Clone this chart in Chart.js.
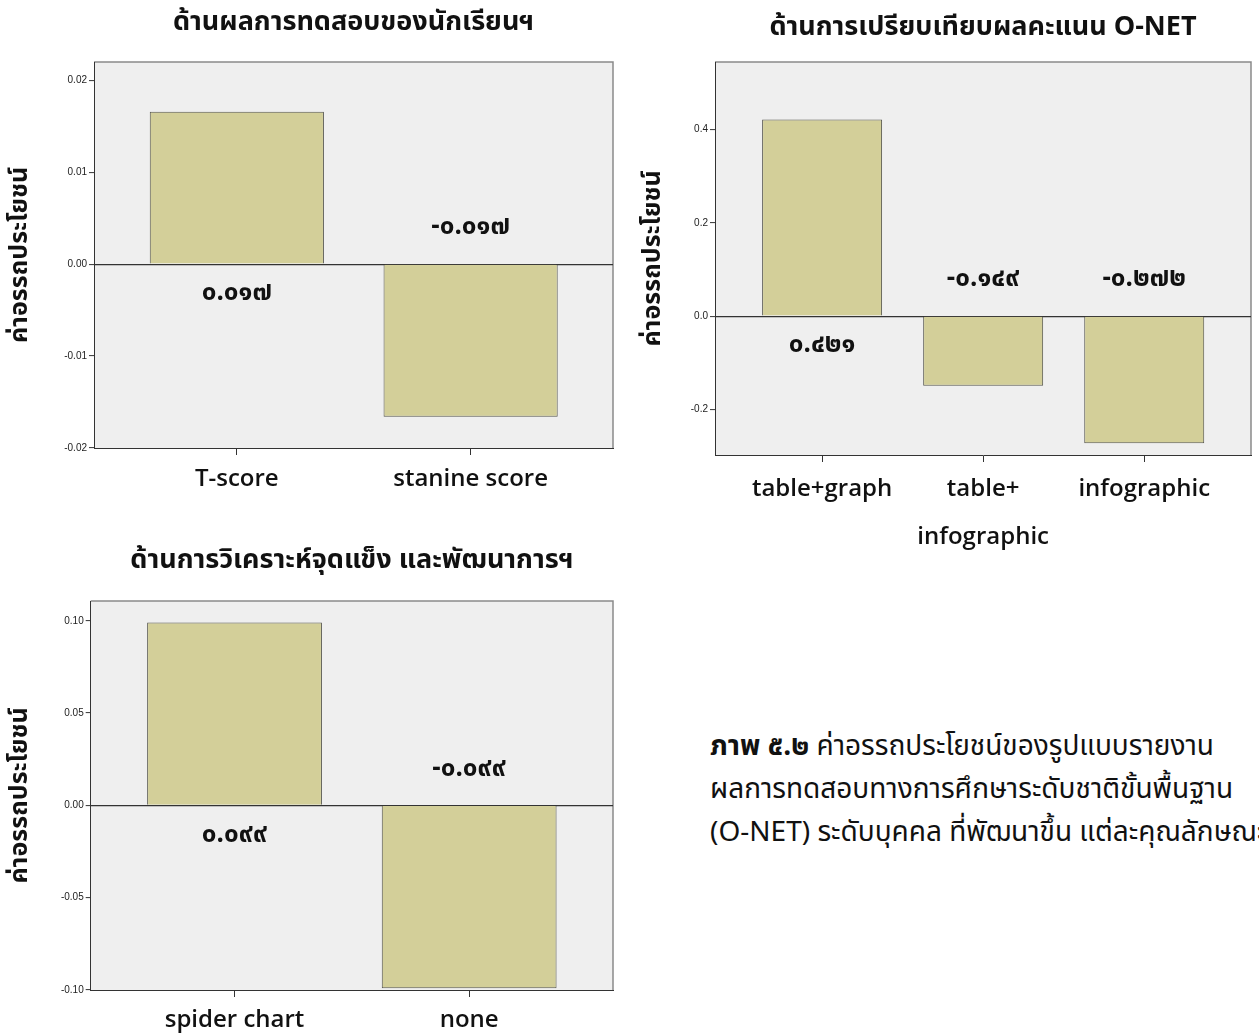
<!DOCTYPE html>
<html lang="th">
<head>
<meta charset="utf-8">
<title>ค่าอรรถประโยชน์</title>
<script src="https://cdn.jsdelivr.net/npm/chart.js@4/dist/chart.umd.min.js"></script>
<style>
  html, body { margin: 0; padding: 0; background: #fff; }
  body { position: relative; width: 1259px; height: 1034px; overflow: hidden;
         font-family: "Noto Sans Thai", Tahoma, "Open Sans", "Noto Sans", sans-serif; }
  .panel { position: absolute; }
  #caption { position: absolute; left: 710px; top: 725px; font-size: 28px; line-height: 43px;
             white-space: nowrap; color: #111; }
</style>
</head>
<body>
<div class="panel" style="left:0;top:0;width:625px;height:510px"><canvas id="testChart"></canvas></div>
<div class="panel" style="left:630px;top:0;width:629px;height:560px"><canvas id="compareChart"></canvas></div>
<div class="panel" style="left:0;top:530px;width:625px;height:504px"><canvas id="analysisChart"></canvas></div>
<div id="caption"><b>ภาพ ๕.๒</b> ค่าอรรถประโยชน์ของรูปแบบรายงาน<br>ผลการทดสอบทางการศึกษาระดับชาติขั้นพื้นฐาน<br>(O-NET) ระดับบุคคล ที่พัฒนาขึ้น แต่ละคุณลักษณะ</div>

<script>
// Data
const axisTitle = 'ค่าอรรถประโยชน์';

const testTitle = 'ด้านผลการทดสอบของนักเรียนฯ';
const testLabels = ['T-score', 'stanine score'];
const testValues = [0.0166, -0.0166];
const testTicks = [-0.02, -0.01, 0, 0.01, 0.02];

const compareTitle = 'ด้านการเปรียบเทียบผลคะแนน O-NET';
const compareLabels = ['table+graph', ['table+', 'infographic'], 'infographic'];
const compareValues = [0.421, -0.149, -0.272];
const compareTicks = [-0.2, 0, 0.2, 0.4];

const analysisTitle = 'ด้านการวิเคราะห์จุดแข็ง และพัฒนาการฯ';
const analysisLabels = ['spider chart', 'none'];
const analysisValues = [0.099, -0.099];
const analysisTicks = [-0.10, -0.05, 0, 0.05, 0.10];

const THAI_FONT = '"Noto Sans Thai", Tahoma, "Open Sans", "Noto Sans", sans-serif';
const LATIN_FONT = '"Open Sans", "Noto Sans Thai", sans-serif';
const BAR_FILL = '#d3cf99';
const PLOT_BG = '#efefef';
const AXIS_COLOR = '#333333';

function toThaiDigits(str) {
    const digits = '๐๑๒๓๔๕๖๗๘๙';
    return str.replace(/[0-9]/g, d => digits[+d]);
}

// grey plot panel with the lighter top/right frame
const plotPanel = {
    id: 'plotPanel',
    beforeDraw(chart) {
        const {ctx, chartArea: a} = chart;
        ctx.save();
        ctx.fillStyle = PLOT_BG;
        ctx.fillRect(a.left, a.top, a.right - a.left, a.bottom - a.top);
        ctx.strokeStyle = '#8a8a8a';
        ctx.lineWidth = 1.5;
        ctx.beginPath();
        ctx.moveTo(a.left, a.top);
        ctx.lineTo(a.right, a.top);
        ctx.lineTo(a.right, a.bottom);
        ctx.stroke();
        ctx.restore();
    }
};

// value labels sit on the other side of the zero line
const valueLabels = {
    id: 'valueLabels',
    afterDatasetsDraw(chart) {
        const {ctx} = chart;
        const zero = chart.scales.y.getPixelForValue(0);
        const points = chart.data.datasets[0].data;
        ctx.save();
        ctx.font = 'bold 26px ' + THAI_FONT;
        ctx.fillStyle = '#111';
        ctx.textAlign = 'center';
        ctx.textBaseline = 'middle';
        chart.getDatasetMeta(0).data.forEach((bar, i) => {
            const v = points[i].y;
            const y = v >= 0 ? zero + 31 : zero - 35;
            ctx.fillText(toThaiDigits(v.toFixed(3)), bar.x, y);
        });
        ctx.restore();
    }
};

function makeChart(id, opts) {
    const data = opts.values.map((v, i) => ({x: i, y: v}));
    return new Chart(document.getElementById(id), {
        type: 'bar',
        data: {
            datasets: [{
                data: data,
                backgroundColor: BAR_FILL,
                borderColor: '#55554c',
                borderWidth: 1,
                barPercentage: 0.745,
                categoryPercentage: 1
            }]
        },
        options: {
            responsive: true,
            maintainAspectRatio: false,
            animation: false,
            layout: {padding: {left: 0, top: 0, right: opts.padRight, bottom: 0}},
            plugins: {
                legend: {display: false},
                tooltip: {enabled: false},
                title: {
                    display: true,
                    text: opts.title,
                    fullSize: false,
                    color: '#111',
                    font: {family: THAI_FONT, size: 27, weight: 'bold', lineHeight: 1.2},
                    padding: opts.titlePad
                }
            },
            scales: {
                x: {
                    type: 'linear',
                    offset: false,
                    min: opts.xMin,
                    max: opts.xMax,
                    afterBuildTicks: s => { s.ticks = opts.labels.map((_, i) => ({value: i})); },
                    afterFit: s => { s.height = opts.xHeight; },
                    border: {color: AXIS_COLOR, width: 1},
                    grid: {offset: false, drawOnChartArea: false, tickLength: 7, tickColor: AXIS_COLOR},
                    ticks: {
                        autoSkip: false,
                        maxRotation: 0,
                        padding: opts.xPad,
                        color: '#111',
                        font: {family: LATIN_FONT, size: 24, weight: '600', lineHeight: opts.xLineHeight},
                        callback: (v, i) => opts.labels[i]
                    }
                },
                y: {
                    min: opts.yMin,
                    max: opts.yMax,
                    afterBuildTicks: s => { s.ticks = opts.ticks.map(v => ({value: v})); },
                    afterFit: s => { s.width = opts.yWidth; },
                    border: {color: AXIS_COLOR, width: 1},
                    grid: {
                        color: ctx => (ctx.tick && ctx.tick.value === 0) ? AXIS_COLOR : 'rgba(0,0,0,0)',
                        lineWidth: 1.2,
                        tickLength: 5,
                        tickColor: AXIS_COLOR,
                        tickWidth: 1
                    },
                    ticks: {
                        padding: 2,
                        color: '#222',
                        font: {family: '"Liberation Sans", Arial, sans-serif', size: 10},
                        callback: v => v.toFixed(opts.decimals)
                    },
                    title: {
                        display: true,
                        text: axisTitle,
                        color: '#111',
                        font: {family: THAI_FONT, size: 25, weight: 'bold', lineHeight: 1.2},
                        padding: {top: opts.yTitlePad, bottom: 0}
                    }
                }
            }
        },
        plugins: [plotPanel, valueLabels]
    });
}

makeChart('testChart', {
    title: testTitle, labels: testLabels, values: testValues, ticks: testTicks, decimals: 2,
    yMin: -0.02, yMax: 0.022, xMin: -0.611, xMax: 1.609,
    yWidth: 94, padRight: 12, titlePad: {top: 8.8, bottom: 20.8},
    xHeight: 62, xPad: 9.6, xLineHeight: 1.2, yTitlePad: 7
});

makeChart('compareChart', {
    title: compareTitle, labels: compareLabels, values: compareValues, ticks: compareTicks, decimals: 1,
    yMin: -0.297, yMax: 0.544, xMin: -0.665, xMax: 2.663,
    yWidth: 85, padRight: 8, titlePad: {top: 13.8, bottom: 15.8},
    xHeight: 105, xPad: 3, xLineHeight: '48px', yTitlePad: 10
});

makeChart('analysisChart', {
    title: analysisTitle, labels: analysisLabels, values: analysisValues, ticks: analysisTicks, decimals: 2,
    yMin: -0.10, yMax: 0.1107, xMin: -0.613, xMax: 1.613,
    yWidth: 90.7, padRight: 12, titlePad: {top: 16.8, bottom: 21.8},
    xHeight: 44, xPad: 8.3, xLineHeight: 1.2, yTitlePad: 7
});
</script>
</body>
</html>
